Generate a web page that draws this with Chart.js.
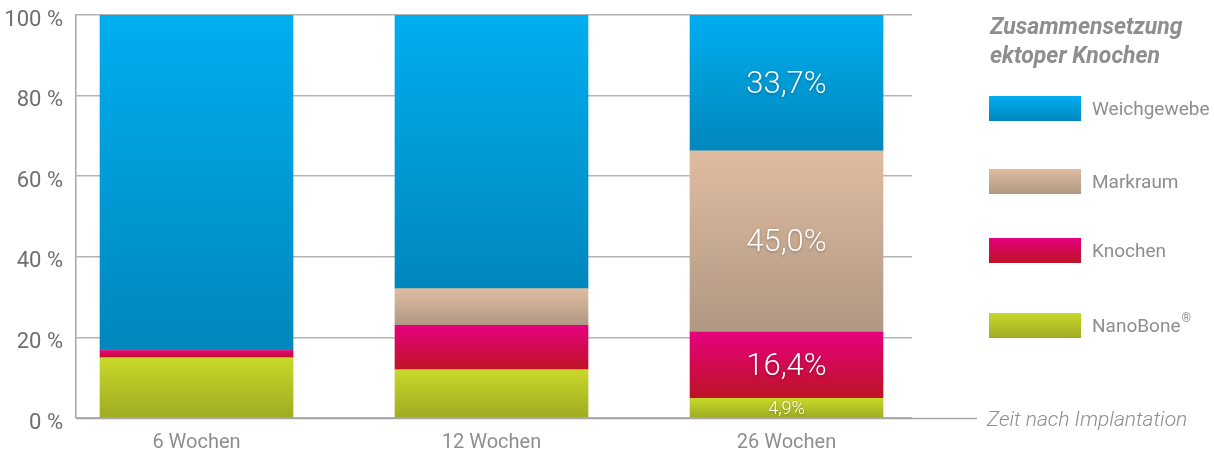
<!DOCTYPE html>
<html lang="de">
<head>
    <meta charset="UTF-8">
    <title>Zusammensetzung ektoper Knochen</title>
    <script src="https://cdn.jsdelivr.net/npm/chart.js"></script>
    <style>
        html, body { margin: 0; padding: 0; background: #fff; }
        #wrap { width: 1214px; height: 452px; position: relative; }
    </style>
</head>
<body>
    <div id="wrap">
        <canvas id="boneChart" width="1214" height="452"></canvas>
    </div>
    <script>
        // data (percent)
        const categories = ['6 Wochen', '12 Wochen', '26 Wochen'];
        const seriesNames = ['NanoBone®', 'Knochen', 'Markraum', 'Weichgewebe'];
        const nanoBone = [15.0, 12.0, 4.9];
        const knochen = [1.7, 11.0, 16.4];
        const markraum = [0, 9.1, 45.0];
        const weichgewebe = [83.3, 67.9, 33.7];
        const yTicks = [0, 20, 40, 60, 80, 100];
        // value labels only shown on the last bar
        const labelledIndex = 2;

        // gradient top / bottom per series
        const gradients = [
            ['#c9d82a', '#9fab22'],
            ['#e6007e', '#bd1424'],
            ['#dfbca1', '#b09883'],
            ['#00aeef', '#0087bd']
        ];
        const seriesValues = [nanoBone, knochen, markraum, weichgewebe];

        const grey = '#b3b3b3';
        const textGrey = '#6f6f71';
        const lightGrey = '#8d8e90';

        function segmentFill(ctx) {
            const chart = ctx.chart;
            const area = chart.chartArea;
            const ds = ctx.datasetIndex;
            const g = gradients[ds];
            if (!area || !chart.scales.y) return g[0];
            let start = 0;
            for (let i = 0; i < ds; i++) start += seriesValues[i][ctx.dataIndex];
            const end = start + seriesValues[ds][ctx.dataIndex];
            const y = chart.scales.y;
            const top = y.getPixelForValue(end);
            const bottom = y.getPixelForValue(start);
            if (!(bottom - top > 0.5)) return g[0];
            const grad = chart.ctx.createLinearGradient(0, top, 0, bottom);
            grad.addColorStop(0, g[0]);
            grad.addColorStop(1, g[1]);
            return grad;
        }

        const datasets = seriesNames.map((name, s) => ({
            label: name,
            data: seriesValues[s].map((v, i) => ({ x: i, y: v })),
            backgroundColor: segmentFill,
            borderWidth: 0,
            barThickness: 193
        }));

        const extrasPlugin = {
            id: 'extras',
            afterDraw(chart) {
                const c = chart.ctx;
                const area = chart.chartArea;

                // bottom axis line runs further right to the axis title
                c.save();
                c.strokeStyle = '#a6a6a6';
                c.lineWidth = 1.5;
                c.beginPath();
                c.moveTo(area.left, area.bottom + 0.5);
                c.lineTo(977, area.bottom + 0.5);
                c.stroke();

                c.fillStyle = lightGrey;
                c.font = 'italic 300 21px Roboto';
                c.textBaseline = 'alphabetic';
                c.textAlign = 'left';
                c.fillText('Zeit nach Implantation', 987, 426);

                // value labels inside the last bar
                c.textAlign = 'center';
                c.textBaseline = 'middle';
                c.shadowColor = 'rgba(0,0,0,0.3)';
                c.shadowBlur = 3;
                c.shadowOffsetY = 1;
                c.fillStyle = '#ffffff';
                seriesValues.forEach((vals, s) => {
                    const el = chart.getDatasetMeta(s).data[labelledIndex];
                    const v = vals[labelledIndex];
                    const txt = v.toFixed(1).replace('.', ',') + '%';
                    c.font = v < 8 ? '300 18px Roboto' : '300 31px Roboto';
                    c.fillText(txt, el.x, (el.y + el.base) / 2 + 2);
                });
                c.restore();

                // legend on the right
                c.save();
                c.fillStyle = lightGrey;
                c.font = 'italic bold 23px Roboto';
                c.textAlign = 'left';
                c.textBaseline = 'alphabetic';
                c.fillText('Zusammensetzung', 990, 34);
                c.fillText('ektoper Knochen', 990, 63);

                const tops = [96, 169, 238, 313];
                for (let k = 0; k < seriesNames.length; k++) {
                    const s = seriesNames.length - 1 - k;
                    const y0 = tops[k];
                    const grad = c.createLinearGradient(0, y0, 0, y0 + 25);
                    grad.addColorStop(0, gradients[s][0]);
                    grad.addColorStop(1, gradients[s][1]);
                    c.fillStyle = grad;
                    c.fillRect(989, y0, 92, 25);
                    c.fillStyle = lightGrey;
                    c.font = '19px Roboto';
                    c.textBaseline = 'middle';
                    const name = seriesNames[s];
                    if (name.endsWith('®')) {
                        const base = name.slice(0, -1);
                        c.fillText(base, 1092, y0 + 14);
                        const w = c.measureText(base).width;
                        c.font = '12px Roboto';
                        c.fillText('®', 1092 + w + 1, y0 + 6);
                    } else {
                        c.fillText(name, 1092, y0 + 14);
                    }
                }
                c.restore();
            }
        };

        new Chart(document.getElementById('boneChart'), {
            type: 'bar',
            data: { datasets: datasets },
            plugins: [extrasPlugin],
            options: {
                responsive: false,
                animation: false,
                layout: { padding: { left: 0, right: 302, top: 15, bottom: 0 } },
                plugins: {
                    legend: { display: false },
                    tooltip: { enabled: false }
                },
                scales: {
                    x: {
                        type: 'linear',
                        stacked: true,
                        offset: false,
                        min: -0.4085,
                        max: 2.4254,
                        afterBuildTicks: (scale) => {
                            scale.ticks = categories.map((c, i) => ({ value: i }));
                        },
                        afterFit: (scale) => {
                            scale.height = 34;
                            scale.paddingLeft = 0;
                            scale.paddingRight = 0;
                        },
                        grid: { display: false, offset: false },
                        border: { display: false },
                        ticks: {
                            callback: (v) => categories[v],
                            color: lightGrey,
                            font: { family: 'Roboto', size: 20 },
                            padding: 5,
                            maxRotation: 0,
                            autoSkip: false
                        }
                    },
                    y: {
                        stacked: true,
                        min: 0,
                        max: 100,
                        afterBuildTicks: (scale) => {
                            scale.ticks = yTicks.map(v => ({ value: v }));
                        },
                        afterFit: (scale) => {
                            scale.width = 76;
                            scale.paddingTop = 0;
                            scale.paddingBottom = 0;
                        },
                        grid: { color: grey, lineWidth: 1.5, drawTicks: false },
                        border: { display: true, color: '#a6a6a6', width: 1.5 },
                        ticks: {
                            callback: (v) => v + ' %',
                            color: textGrey,
                            font: { family: 'Roboto', size: 22 },
                            padding: 13,
                            labelOffset: 5
                        }
                    }
                }
            }
        });
    </script>
</body>
</html>
